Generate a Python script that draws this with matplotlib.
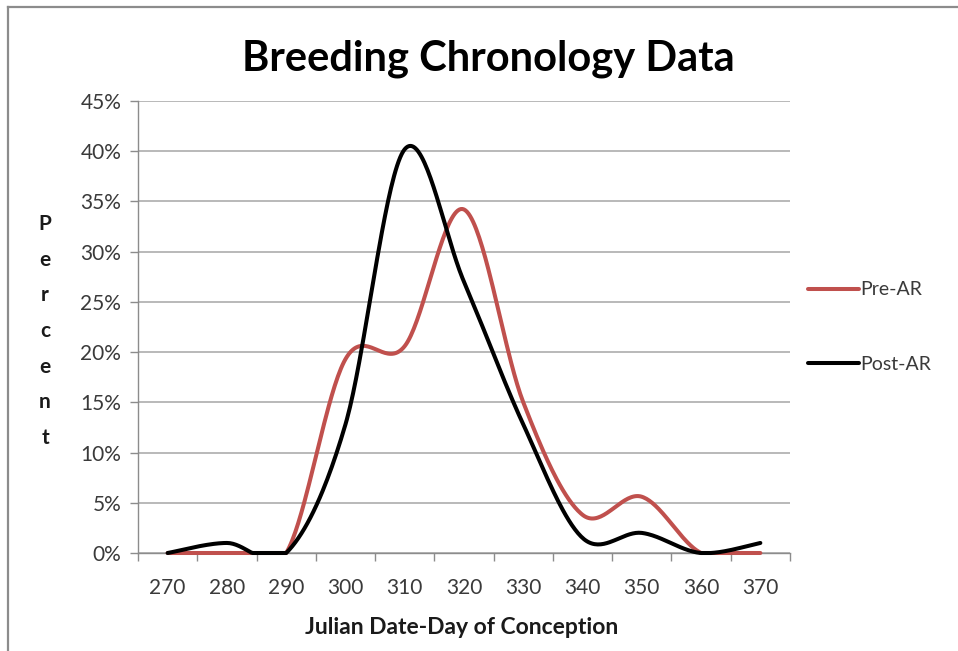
import matplotlib
matplotlib.use("Agg")
import matplotlib.pyplot as plt
import matplotlib.lines as mlines
import numpy as np

categories = ["270", "280", "290", "300", "310", "320", "330", "340", "350", "360", "370"]
pre_ar = [0.0, 0.0, 0.0, 19.3, 20.6, 34.2, 15.0, 3.8, 5.6, 0.0, 0.0]
post_ar = [0.0, 1.0, 0.0, 12.8, 40.2, 27.0, 12.8, 1.5, 2.0, 0.0, 1.0]
y_ticks = [0, 5, 10, 15, 20, 25, 30, 35, 40, 45]

FONT = "Lato"
plt.rcParams["font.family"] = [FONT, "DejaVu Sans"]


def smooth(xs, ys, n=40):
    """Excel-like smoothed line: Catmull-Rom spline as cubic Bezier segments."""
    xs = np.asarray(xs, float)
    ys = np.asarray(ys, float) / 100.0
    P = np.column_stack([xs, ys])
    out = []
    t = np.linspace(0, 1, n)[:, None]
    for i in range(len(P) - 1):
        p0 = P[i - 1] if i > 0 else P[i]
        p1 = P[i]
        p2 = P[i + 1]
        p3 = P[i + 2] if i + 2 < len(P) else P[i + 1]
        c1 = p1 + (p2 - p0) / 6.0
        c2 = p2 - (p3 - p1) / 6.0
        seg = ((1 - t) ** 3) * p1 + 3 * ((1 - t) ** 2) * t * c1 + 3 * (1 - t) * t ** 2 * c2 + t ** 3 * p2
        out.append(seg if i == 0 else seg[1:])
    pts = np.vstack(out)
    return pts[:, 0], np.maximum(pts[:, 1], 0.0)


fig = plt.figure(figsize=(9.58, 6.51), dpi=100)
fig.patch.set_facecolor("white")

# outer frame (only top and left visible in the reference)
fig.add_artist(mlines.Line2D([8 / 958, 8 / 958], [0, 1 - 7 / 651], color="#8c8c8c", lw=1.6,
                             transform=fig.transFigure))
fig.add_artist(mlines.Line2D([8 / 958, 1], [1 - 7 / 651, 1 - 7 / 651], color="#8c8c8c", lw=1.6,
                             transform=fig.transFigure))

ax = fig.add_axes([138 / 958, 98 / 651, (790 - 138) / 958, (553 - 101) / 651])

x = np.arange(len(categories))
red = "#C0504D"
xs, ys = smooth(x, pre_ar)
ax.plot(xs, ys, color=red, lw=2.9, solid_capstyle="round", label="Pre-AR", zorder=3, clip_on=False)
xs, ys = smooth(x, post_ar)
ax.plot(xs, ys, color="black", lw=2.9, solid_capstyle="round", label="Post-AR", zorder=4, clip_on=False)

ax.set_xlim(-0.5, len(categories) - 0.5)
ax.set_ylim(0, 0.45)

# y axis
yt = [v / 100 for v in y_ticks]
ax.set_yticks(yt)
ax.set_yticklabels([f"{v}%" for v in y_ticks])
ax.yaxis.grid(True, color="#a6a6a6", lw=1.1)
ax.set_axisbelow(True)

# x axis: tick marks at category boundaries, labels at centers
ax.set_xticks(np.arange(-0.5, len(categories), 1.0))
ax.set_xticklabels([])
ax.set_xticks(x, minor=True)
ax.set_xticklabels(categories, minor=True)
ax.tick_params(axis="x", which="major", length=6, color="#8c8c8c", width=1.0, direction="out")
ax.tick_params(axis="x", which="minor", length=0, pad=18, labelsize=15, labelcolor="#3a3a3a")
ax.tick_params(axis="y", length=6, color="#8c8c8c", width=1.0, pad=6, labelsize=15,
               labelcolor="#3a3a3a")

for s in ["top", "right"]:
    ax.spines[s].set_visible(False)
ax.spines["left"].set_color("#8c8c8c")
ax.spines["bottom"].set_color("#8c8c8c")
ax.spines["left"].set_linewidth(1.0)
ax.spines["bottom"].set_linewidth(1.0)
ax.spines["bottom"].set_zorder(2)

# title
fig.text(488 / 958, 1 - 59 / 651, "Breeding Chronology Data", ha="center", va="center",
         fontsize=30, fontweight="bold", color="black")

# x label
fig.text(462 / 958, 1 - 627 / 651, "Julian Date-Day of Conception", ha="center", va="center",
         fontsize=16.5, fontweight="bold", color="#1a1a1a")

# vertical stacked y label
fig.text(45 / 958, 1 - 331 / 651, "\n".join("Percent"), ha="center", va="center",
         fontsize=15, fontweight="bold", color="#1a1a1a", linespacing=1.98)

# legend
leg = ax.legend(loc="center left", bbox_to_anchor=(1.0 + 18 / 652, 0.0, 0.3, 1.0),
                frameon=False, fontsize=14, handlelength=2.6, handletextpad=0.1,
                labelspacing=2.95, borderaxespad=0, borderpad=0)
for t in leg.get_texts():
    t.set_color("#3a3a3a")

fig.savefig("out.png", dpi=100, facecolor="white")
